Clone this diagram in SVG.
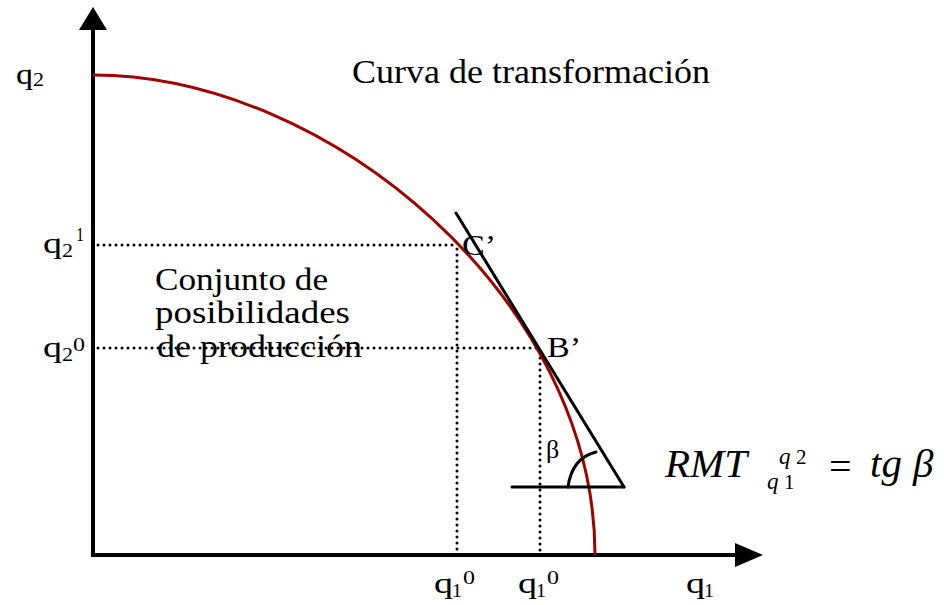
<svg xmlns="http://www.w3.org/2000/svg" width="944" height="605" viewBox="0 0 944 605" font-family="'Liberation Serif', 'Times New Roman', serif">
<style>
text{font-family:'Liberation Serif','Times New Roman',serif;fill:#000}
.ti{font-style:italic}
.dot{stroke:#000;stroke-width:3;stroke-linecap:round;stroke-dasharray:0 6;fill:none}
.ax{stroke:#000;stroke-width:4;fill:none}
.ln{stroke:#000;stroke-width:3;fill:none;stroke-linecap:round}
</style>
<rect width="944" height="605" fill="#fff"/>
<g id="connectors">
  <line class="dot" x1="98" y1="245" x2="455" y2="245"/>
  <line class="dot" x1="98" y1="348" x2="538" y2="348"/>
  <line class="dot" x1="457" y1="249" x2="457" y2="553"/>
  <line class="dot" x1="540" y1="352" x2="540" y2="553"/>
</g>
<g id="axes">
  <line class="ax" x1="93" y1="28" x2="93" y2="557"/>
  <polygon points="79,30 107,30 93,7" fill="#000"/>
  <line class="ax" x1="91" y1="555" x2="737" y2="555"/>
  <polygon points="735,543 735,567 763,555" fill="#000"/>
</g>
<g id="curve">
  <path d="M93,75 C330,75 595,300 595,555" fill="none" stroke="#A00000" stroke-width="3"/>
</g>
<g id="tangent">
  <line class="ln" x1="456" y1="213" x2="624" y2="487"/>
  <line class="ln" x1="512" y1="487" x2="624" y2="487"/>
  <path class="ln" d="M568,487 Q572,458 596,452"/>
</g>
<g id="labels">
  <text x="352" y="83" font-size="33" textLength="358" lengthAdjust="spacingAndGlyphs">Curva de transformación</text>
  <text x="155" y="290" font-size="32" textLength="173" lengthAdjust="spacingAndGlyphs">Conjunto de</text>
  <text x="155" y="323" font-size="32" textLength="195" lengthAdjust="spacingAndGlyphs">posibilidades</text>
  <text x="157" y="357" font-size="32" textLength="205" lengthAdjust="spacingAndGlyphs">de producción</text>
  <text x="462" y="255" font-size="30" textLength="34" lengthAdjust="spacingAndGlyphs">C’</text>
  <text x="547" y="357" font-size="30" textLength="34" lengthAdjust="spacingAndGlyphs">B’</text>
  <text x="546" y="458" font-size="26">β</text>
</g>
<g id="axis-labels">
  <text x="16" y="84" font-size="30" textLength="17" lengthAdjust="spacingAndGlyphs">q</text>
  <text x="33" y="86" font-size="19" textLength="11" lengthAdjust="spacingAndGlyphs">2</text>

  <text x="43" y="253" font-size="30" textLength="19" lengthAdjust="spacingAndGlyphs">q</text>
  <text x="62" y="257" font-size="19" textLength="11" lengthAdjust="spacingAndGlyphs">2</text>
  <text x="76" y="241" font-size="18" textLength="8" lengthAdjust="spacingAndGlyphs">1</text>

  <text x="43" y="357" font-size="30" textLength="19" lengthAdjust="spacingAndGlyphs">q</text>
  <text x="62" y="361" font-size="19" textLength="11" lengthAdjust="spacingAndGlyphs">2</text>
  <text x="73" y="351" font-size="19" textLength="12" lengthAdjust="spacingAndGlyphs">0</text>

  <text x="434" y="593" font-size="30" textLength="19" lengthAdjust="spacingAndGlyphs">q</text>
  <text x="452" y="597" font-size="19" textLength="10" lengthAdjust="spacingAndGlyphs">1</text>
  <text x="463" y="584" font-size="19" textLength="12" lengthAdjust="spacingAndGlyphs">0</text>

  <text x="518" y="593" font-size="30" textLength="19" lengthAdjust="spacingAndGlyphs">q</text>
  <text x="536" y="597" font-size="19" textLength="10" lengthAdjust="spacingAndGlyphs">1</text>
  <text x="547" y="584" font-size="19" textLength="12" lengthAdjust="spacingAndGlyphs">0</text>

  <text x="686" y="593" font-size="30" textLength="19" lengthAdjust="spacingAndGlyphs">q</text>
  <text x="704" y="597" font-size="19" textLength="10" lengthAdjust="spacingAndGlyphs">1</text>
</g>
<g id="formula">
  <text class="ti" x="665" y="477" font-size="41">RMT</text>
  <text class="ti" x="779" y="464" font-size="23">q</text>
  <text x="796" y="464" font-size="21">2</text>
  <text class="ti" x="767" y="489" font-size="23">q</text>
  <text x="784" y="489" font-size="21">1</text>
  <text x="829" y="480" font-size="40">=</text>
  <text class="ti" x="870" y="477" font-size="41">tg</text>
  <text class="ti" x="913" y="477" font-size="41">β</text>
</g>
</svg>
